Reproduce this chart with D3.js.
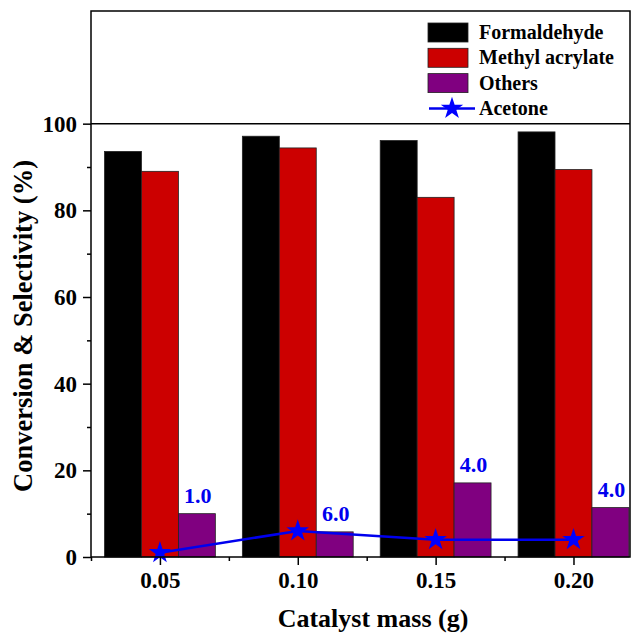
<!DOCTYPE html>
<html>
<head>
<meta charset="utf-8">
<script src="https://cdn.jsdelivr.net/npm/d3@7"></script>
</head>
<body style="margin:0;background:#fff">
<div id="chart"></div>
<script>
// data
const masses = [0.05, 0.10, 0.15, 0.20]
const massLabels = ['0.05', '0.10', '0.15', '0.20']
const formaldehyde = [93.6, 97.1, 96.1, 98.1]
const methylAcrylate = [89.0, 94.4, 83.0, 89.4]
const others = [10.0, 5.8, 17.1, 11.4]
const acetone = [1.0, 6.0, 4.0, 4.0]
const acetoneLabels = ['1.0', '6.0', '4.0', '4.0']
const yTicks = [0, 20, 40, 60, 80, 100]

const barSeries = [
    { name: 'Formaldehyde', values: formaldehyde, color: '#000000' },
    { name: 'Methyl acrylate', values: methylAcrylate, color: '#cc0000' },
    { name: 'Others', values: others, color: '#800080' }
]

const FONT = "'Liberation Serif'"

// set the dimensions and margins of the graph
var margin = { top: 11, right: 5, bottom: 78, left: 91 },
    width = 635 - margin.left - margin.right,
    height = 635 - margin.top - margin.bottom;

var svg = d3.select("#chart")
    .append("svg")
    .attr("width", 635)
    .attr("height", 635)
    .append("g")
    .attr("transform", "translate(" + margin.left + "," + margin.top + ")");

var x = d3.scaleLinear().domain([0.025, 0.2205]).range([0, width])
var y = d3.scaleLinear().domain([0, 126]).range([height, 0])

var barW = x(0.05) - x(0.05 - 0.0134)   // about 37px per bar

// bars
barSeries.forEach((s, i) => {
    svg.selectAll(".bar" + i)
        .data(masses)
        .enter()
        .append("rect")
        .attr("x", d => x(d) - 1.5 * barW + i * barW)
        .attr("y", (d, j) => y(s.values[j]))
        .attr("width", barW)
        .attr("height", (d, j) => height - y(s.values[j]))
        .attr("fill", s.color)
        .attr("stroke", "#222")
        .attr("stroke-width", 0.8)
})

// acetone line + stars
var line = d3.line()
    .x(d => x(d[0]))
    .y(d => y(d[1]))
var pts = masses.map((m, i) => [m, acetone[i]])
svg.append("path")
    .datum(pts)
    .attr("d", line)
    .attr("fill", "none")
    .attr("stroke", "#0000ee")
    .attr("stroke-width", 2.5)

var star = d3.symbol().type(d3.symbolStar).size(155)
svg.selectAll(".star")
    .data(pts)
    .enter()
    .append("path")
    .attr("d", star)
    .attr("transform", d => "translate(" + x(d[0]) + "," + y(d[1]) + ")")
    .attr("fill", "#0000ff")

// value labels sit centred above the "Others" bars
svg.selectAll(".vlabel")
    .data(masses)
    .enter()
    .append("text")
    .attr("x", d => x(d) + barW + 1)
    .attr("y", (d, i) => y(others[i]) - 11)
    .attr("text-anchor", "middle")
    .attr("fill", "#0000ee")
    .style("font-family", FONT)
    .style("font-weight", "bold")
    .style("font-size", "22px")
    .text((d, i) => acetoneLabels[i])

// axes
var xAxis = svg.append("g")
    .attr("transform", "translate(0," + height + ")")
    .call(d3.axisBottom(x).tickValues(masses).tickFormat((d, i) => massLabels[i]).tickSize(8).tickPadding(7))
svg.append("g")
    .attr("transform", "translate(0," + height + ")")
    .call(d3.axisBottom(x).tickValues([0.025, 0.075, 0.125, 0.175]).tickFormat("").tickSize(4))

var yAxis = svg.append("g")
    .call(d3.axisLeft(y).tickValues(yTicks).tickSize(8).tickPadding(6))
svg.append("g")
    .call(d3.axisLeft(y).tickValues([10, 30, 50, 70, 90]).tickFormat("").tickSize(4))

svg.selectAll(".domain").remove()
svg.selectAll(".tick line").attr("stroke", "#000").attr("stroke-width", 1.5)
svg.selectAll(".tick text")
    .attr("fill", "#000")
    .style("font-family", FONT)
    .style("font-weight", "bold")
    .style("font-size", "23px")

// frame and 100% line
svg.append("rect")
    .attr("width", width).attr("height", height)
    .attr("fill", "none").attr("stroke", "#000").attr("stroke-width", 1.5)
svg.append("line")
    .attr("x1", 0).attr("x2", width)
    .attr("y1", y(100)).attr("y2", y(100))
    .attr("stroke", "#000").attr("stroke-width", 1.5)

// axis titles
svg.append("text")
    .attr("x", 282)
    .attr("y", height + 70)
    .attr("text-anchor", "middle")
    .style("font-family", FONT)
    .style("font-weight", "bold")
    .style("font-size", "26px")
    .text("Catalyst mass (g)")
svg.append("text")
    .attr("transform", "translate(-59,315) rotate(-90)")
    .attr("text-anchor", "middle")
    .style("font-family", FONT)
    .style("font-weight", "bold")
    .style("font-size", "26.5px")
    .text("Conversion & Selectivity (%)")

// legend
var legend = svg.append("g").attr("transform", "translate(337,12)")
barSeries.forEach((s, i) => {
    legend.append("rect")
        .attr("x", 0).attr("y", i * 25.3)
        .attr("width", 40).attr("height", 19)
        .attr("fill", s.color).attr("stroke", "#222").attr("stroke-width", 0.8)
    legend.append("text")
        .attr("x", 51).attr("y", i * 25.3 + 16)
        .style("font-family", FONT)
        .style("font-weight", "bold")
        .style("font-size", "20px")
        .text(s.name)
})
legend.append("line")
    .attr("x1", 1).attr("x2", 47)
    .attr("y1", 3 * 25.3 + 9.5).attr("y2", 3 * 25.3 + 9.5)
    .attr("stroke", "#0000ee").attr("stroke-width", 2.5)
legend.append("path")
    .attr("d", star)
    .attr("transform", "translate(24," + (3 * 25.3 + 9.5) + ")")
    .attr("fill", "#0000ff")
legend.append("text")
    .attr("x", 51).attr("y", 3 * 25.3 + 16)
    .style("font-family", FONT)
    .style("font-weight", "bold")
    .style("font-size", "20px")
    .text("Acetone")
</script>
</body>
</html>
